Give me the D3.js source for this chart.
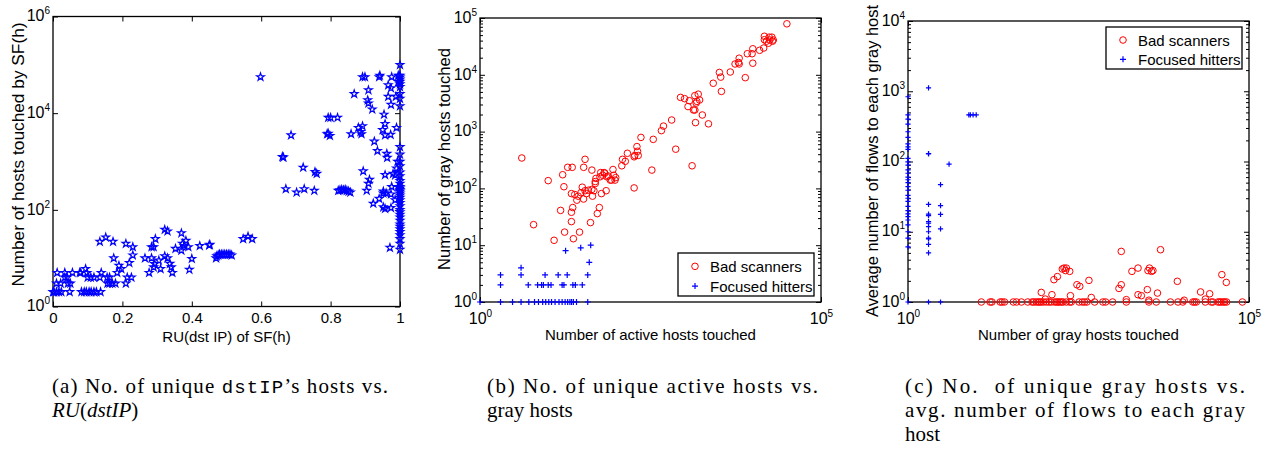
<!DOCTYPE html>
<html><head><meta charset="utf-8">
<script src="https://cdn.jsdelivr.net/npm/d3@7"></script>
<style>body{margin:0;background:#fff}</style>
</head><body><svg id="c" width="1271" height="452"></svg>
<script>
// ---------- DATA ----------
// Panel (a): [RU(dst IP), number of hosts]
const aPoints = [
 [0.0,2],[0.003,2],[0.01,2],[0.017,2],[0.024,2],[0.048,2],[0.082,2],[0.09,2],[0.096,2],[0.104,2],[0.11,2],[0.118,2],[0.125,2],[0.137,2],
 [0.01,3],[0.022,3],[0.043,3],[0.05,3],[0.157,3],[0.163,3],[0.171,3],[0.18,3],[0.21,3],
 [0.034,4],[0.041,4],[0.1,4],[0.109,4],[0.118,4],[0.135,4],[0.156,4],[0.163,4],[0.214,4],[0.226,4],
 [0.012,5],[0.034,5],[0.056,5],[0.077,5],[0.08,5],[0.098,5],[0.139,5],[0.185,5],[0.277,5],[0.344,5],
 [0.094,6],[0.197,6],
 [0.135,22],[0.152,27],[0.173,22],[0.175,10],[0.19,7],[0.21,20],[0.22,8],[0.23,17],[0.23,11.5],
 [0.265,10],[0.284,17],[0.29,17],[0.295,25],[0.29,6.5],[0.293,7.6],[0.31,6],[0.305,9],[0.284,10],
 [0.322,39],[0.33,36],[0.322,11],[0.33,10],[0.337,7.7],[0.341,6.5],[0.353,15.7],[0.37,33],[0.37,14.5],
 [0.378,18],[0.383,23],[0.373,20],[0.39,17],[0.393,5.8],[0.4,9.7],[0.423,18],[0.45,18.5],[0.452,19],
 [0.47,10],[0.472,11],[0.476,11.5],[0.48,12],[0.485,12],[0.49,12],[0.495,12],[0.5,12],[0.505,12],[0.51,12],[0.515,11.5],
 [0.548,25],[0.562,28],[0.574,25],
 [0.598,56000],
 [0.661,1250],[0.664,1220],[0.686,3500],[0.671,270],[0.702,230],[0.724,270],[0.721,750],[0.753,250],[0.755,610],[0.76,560],
 [0.793,8100],[0.8,8100],[0.82,8100],[0.793,3800],[0.798,3400],[0.79,3700],
 [0.822,250],[0.827,255],[0.832,260],[0.837,255],[0.842,260],[0.847,250],[0.852,240],[0.857,230],
 [0.859,3700],[0.868,25000],[0.88,5000],[0.886,4100],[0.892,5400],[0.889,3700],[0.892,56000],[0.899,56000],
 [0.907,18600],[0.909,30000],[0.909,16000],[0.92,12000],[0.894,630],[0.909,350],[0.912,420],[0.904,250],
 [0.923,135],[0.926,2600],[0.935,1660],[0.94,56000],[0.942,60000],[0.94,170],[0.952,220],[0.954,9400],
 [0.957,6000],[0.95,4500],[0.957,3500],[0.962,1450],[0.963,1200],[0.957,530],[0.952,240],[0.96,220],
 [0.952,114],[0.957,105],[0.966,38000],[0.966,22000],[0.974,33000],[0.974,15000],[0.973,3600],[0.976,56000],
 [0.98,560],[0.986,520],[0.976,300],[0.974,210],[0.974,110],[0.971,16.5],[0.988,22000],[0.99,5000],[0.99,720],
 [0.986,160],[0.995,60000],[0.995,45000],[0.993,1000],[0.995,300],
 [1,100000],[1,60000],[1,55000],[1,50000],[1,45000],[1,40000],[1,35000],[1,25000],[1,20000],[1,14000],
 [1,2000],[1,1400],[1,1000],[1,800],[1,600],[1,500],[1,400],[1,350],[1,300],[1,280],[1,260],[1,240],
 [1,220],[1,200],[1,180],[1,160],[1,140],[1,120],[1,100],[1,90],[1,80],[1,70],[1,60],[1,50],[1,45],
 [1,40],[1,35],[1,30],[1,25],[1,20],[1,15]
];
// Panel (b): [active hosts touched, gray hosts touched]
const bBadScanners = [
 [4.1,343],[6.1,23],[10,137],[12.2,12.2],[15.2,41],[16.3,174],[17,107],[17.4,17],[19.3,235],[22.5,235],
 [21.9,81],[22.9,46],[21.9,38],[21.9,26],[23.4,13],[24.5,78],[26.3,62],[27.5,73],[28.8,17],[30.2,84],
 [31.6,105],[33,65],[33.1,235],[34.7,325],[34.7,91],[36.3,81],[38.9,93],[41.7,25],[43.7,210],[43.7,96],
 [44.7,73],[46.8,91],[49,122],[50.1,150],[49,132],[52.5,36],[56.2,46],[58.9,190],[60.3,81],[57.5,160],
 [63.1,170],[66.1,190],[70.8,91],[67.6,185],[72.4,160],[75.9,165],[81.3,140],[85.1,140],[89.1,215],
 [91.2,170],[95.5,140],[97.7,155],[120,250],[123,325],[135,300],[145,415],[182,102],[182,360],[186,380],
 [200,545],[204,450],[209,380],[229,790],[331,210],[347,730],[457,1040],[490,1250],[646,1600],[741,490],
 [871,4000],[1000,3800],[1122,2760],[1175,3500],[1288,250],[1349,2400],[1413,2400],[1445,1440],[1413,4300],
 [1479,3180],[1514,3400],[1585,4560],[1660,3600],[1820,1960],[2239,1370],[2630,7100],[3236,11000],
 [3388,9100],[3467,5100],[4677,11200],[5495,15500],[6166,16500],[6310,19600],[6310,15500],[7762,8900],
 [8318,23500],[9772,23500],[10000,28700],[10000,16000],[12590,27000],[14450,29600],[14790,47700],
 [14790,41500],[15850,39000],[16980,36000],[17780,41000],[19050,46000],[19500,39000],[19950,41000],
 [17380,46000],[31620,79000]
];
const bFocusedHitters = [
 [1,1],[2,1],[3,1],[4,1],[5.2,1],[6.3,1],[7.2,1],[8.3,1],[9.2,1],[10.2,1],[11.2,1],[12.6,1],[14.4,1],
 [16,1],[17.7,1],[19.3,1],[20.8,1],[22,1],[23.4,1],[26,1],[38,1],
 [2,2],[5.1,2],[7,2],[8,2],[8.5,2],[10,2],[11,2],[16,2],[17,2],[23,2],[25,2],[31.6,2],
 [2,3],[4,3],[9,3],[14,3],[19,3],[38,3],[4,4],[40,5],[18,8],[30,9],[42,10]
];
// Panel (c): [gray hosts touched, avg flows per gray host]
const cBadScanners = [
 [11.9,1],[16,1],[17,1],[22.5,1],[24,1],[26,1],[35,1],[39,1],[46,1],[57,1],[66,1],[70,1],[76,1],[81,1],
 [85,1],[90,1],[97,1],[107,1],[117,1],[126,1],[141,1],[150,1],[158,1],[167,1],[178,1],[187,1],[210,1],
 [235,1],[248,1],[322,1],[360,1],[388,1],[420,1],[545,1],[720,1],[790,1],[1000,1],[1590,1],[3400,1],
 [4370,1],[7050,1],[9100,1],[10700,1],[15000,1],[15900,1],[16900,1],[22900,1],[28000,1],[29600,1],
 [35000,1],[37000,1],[39000,1],[42000,1],[44000,1],[47000,1],[80000,1],
 [90,1.37],[103,1.1],[129,1.27],[138,2.08],[155,2.3],[183,2.95],[194,3.04],[210,3.04],[204,2.8],
 [235,2.73],[241,1.23],[300,1.76],[330,1.67],[450,2.03],[487,1.16],[1240,1.56],[1340,1.76],[1340,5.25],
 [1590,1.08],[1920,2.73],[2360,1.27],[2360,3.04],[2640,1.23],[3230,1.5],[3300,2.8],[3470,3.04],
 [3720,2.73],[3900,2.8],[3400,1.06],[4550,1.34],[5050,5.55],[8900,1.97],[11200,1.06],[19500,1.39],
 [22900,1.1],[26500,1.31],[40000,2.45],[46500,1.9]
];
const cFocusedHitters = [
 [1,835],[1,460],[1,400],[1,340],[1,265],[1,220],[1,178],[1,162],[1,149],[1,111],[1,99],[1,89],[1,76],
 [1,68],[1,60],[1,55],[1,50],[1,44],[1,39],[1,33],[1,30],[1,27],[1,23],[1,20],[1,18],[1,16.4],[1,14.7],
 [1,12.5],[1,10],[1,8.1],[1,6.1],[1,1],
 [2,1120],[2,130],[2,128],[2,24.6],[2,17.8],[2,17],[2,14],[2,13.3],[2,11.8],[2,10],[2,8.1],[2,7.9],
 [2,6.6],[2,5],[2,1],
 [3,47],[3,23.5],[3,17.7],[3,11],[3,1],[4,92],[7.8,460],[8.2,460],[9,460],[10,460]
];
const aXTicks = [0, 0.2, 0.4, 0.6, 0.8, 1];
const aYTicks = [1, 1e2, 1e4, 1e6];
const bXTicks = [1, 1e5];
const bYTicks = [1, 1e1, 1e2, 1e3, 1e4, 1e5];
const cXTicks = [1, 1e5];
const cYTicks = [1, 1e1, 1e2, 1e3, 1e4];
const legendLabels = ["Bad scanners", "Focused hitters"];
const captions = {
  a: ["(a) No. of unique ", "dstIP", "\u2019s hosts vs."],
  b: ["(b) No. of unique active hosts vs.", "gray hosts"],
  c: ["(c) No.  of unique gray hosts vs.", "avg. number of flows to each gray", "host"]
};

// ---------- DRAW ----------
const SANS = "'Liberation Sans', Arial, Helvetica, sans-serif";
const SERIF = "'Liberation Serif', 'Times New Roman', serif";
const BLUE = "#0000ff", RED = "#ff0000";
const svg = d3.select("#c");
svg.append("rect").attr("width",1271).attr("height",452).attr("fill","#fff");

function minorVals(maxDec){ const v=[]; for(let d=0; d<maxDec; d++) for(let k=2;k<=9;k++) v.push(k*Math.pow(10,d)); return v; }

function supLabels(g){
  g.selectAll(".tick text").each(function(d){
    const t = d3.select(this); t.text(null);
    t.append("tspan").attr("font-size",16).text("10");
    t.append("tspan").attr("font-size",10).attr("dy",-7).text(Math.round(Math.log10(d)));
  });
}
function axisStyle(g){ g.select(".domain").remove(); g.selectAll(".tick line").attr("stroke","#000"); g.selectAll("text").attr("font-family",SANS).attr("fill","#000"); }

function panel(p){
  const g = svg.append("g");
  const [x0,x1] = p.x.range(), [y1,y0] = p.y.range();
  const bx = g.append("g").attr("transform",`translate(0,${y1})`)
    .call(d3.axisBottom(p.x).tickValues(p.xTicks).tickSize(-5).tickPadding(p.xPad).tickFormat(p.xFmt||(()=>"")));
  axisStyle(bx); bx.selectAll("text").attr("font-size",15);
  if (p.xSup) supLabels(bx);
  const tx = g.append("g").attr("transform",`translate(0,${y0})`)
    .call(d3.axisTop(p.x).tickValues(p.xTicks).tickSize(-5).tickFormat(""));
  axisStyle(tx);
  const ly = g.append("g").attr("transform",`translate(${x0},0)`)
    .call(d3.axisLeft(p.y).tickValues(p.yTicks).tickSize(-5).tickPadding(3));
  axisStyle(ly); supLabels(ly); ly.selectAll(".tick text").attr("dy","0.42em");
  const ry = g.append("g").attr("transform",`translate(${x1},0)`)
    .call(d3.axisRight(p.y).tickValues(p.yTicks).tickSize(-5).tickFormat(""));
  axisStyle(ry);
  if (p.yMinor){
    [[d3.axisLeft,x0],[d3.axisRight,x1]].forEach(([ax,xx])=>{
      const m = g.append("g").attr("transform",`translate(${xx},0)`)
        .call(ax(p.y).tickValues(p.yMinor).tickSize(-3).tickFormat(""));
      axisStyle(m);
    });
  }
  g.append("rect").attr("x",x0).attr("y",y0).attr("width",x1-x0).attr("height",y1-y0)
    .attr("fill","none").attr("stroke","#000").attr("stroke-width",1.3);
  g.append("text").attr("x",(x0+x1)/2).attr("y",p.xTitleY).attr("text-anchor","middle")
    .attr("font-family",SANS).attr("font-size",15).text(p.xTitle);
  g.append("text").attr("transform",`translate(${p.yTitleX},${p.yTitleC}) rotate(-90)`)
    .attr("text-anchor","middle").attr("font-family",SANS).attr("font-size",16.5)
    .attr("textLength",p.yTitleLen).attr("lengthAdjust","spacingAndGlyphs").text(p.yTitle);
  return g;
}

const plus = s => `M${-s},0H${s}M0,${-s}V${s}`;

// Panel A
const xA = d3.scaleLinear([0,1],[53,400]);
const yA = d3.scaleLog([1,1e6],[306.5,16.5]);
const gA = panel({x:xA,y:yA,xTicks:aXTicks,yTicks:aYTicks,xPad:6,xFmt:d=>d3.format("")(d),
  xTitle:"RU(dst IP) of SF(h)",xTitleY:341.5,yTitle:"Number of hosts touched by SF(h)",yTitleX:23.5,yTitleC:154.5,yTitleLen:264});
gA.append("g").selectAll("path").data(aPoints).join("path")
  .attr("d",d3.symbol(d3.symbolStar,18)())
  .attr("transform",d=>`translate(${xA(d[0])},${yA(d[1])})`)
  .attr("fill","none").attr("stroke",BLUE).attr("stroke-width",1.2);

// Panel B
const xB = d3.scaleLog([1,1e5],[480,821]);
const yB = d3.scaleLog([1,1e5],[302,18]);
const gB = panel({x:xB,y:yB,xTicks:bXTicks,yTicks:bYTicks,yMinor:minorVals(5),xPad:11.5,xSup:true,xFmt:d=>String(d),
  xTitle:"Number of active hosts touched",xTitleY:340,yTitle:"Number of gray hosts touched",yTitleX:450,yTitleC:159,yTitleLen:222});
gB.append("g").selectAll("circle").data(bBadScanners).join("circle")
  .attr("cx",d=>xB(d[0])).attr("cy",d=>yB(d[1])).attr("r",3.3)
  .attr("fill","none").attr("stroke",RED).attr("stroke-width",1);
gB.append("g").selectAll("path").data(bFocusedHitters).join("path")
  .attr("d",plus(3)).attr("transform",d=>`translate(${xB(d[0])},${yB(d[1])})`)
  .attr("stroke",BLUE).attr("stroke-width",1.2);

// Panel C
const xC = d3.scaleLog([1,1e5],[908,1249]);
const yC = d3.scaleLog([1,1e4],[302,21]);
const gC = panel({x:xC,y:yC,xTicks:cXTicks,yTicks:cYTicks,yMinor:minorVals(4),xPad:11.5,xSup:true,xFmt:d=>String(d),
  xTitle:"Number of gray hosts touched",xTitleY:340,yTitle:"Average number of flows to each gray host",yTitleX:878,yTitleC:161,yTitleLen:312});
gC.append("g").selectAll("circle").data(cBadScanners).join("circle")
  .attr("cx",d=>xC(d[0])).attr("cy",d=>yC(d[1])).attr("r",3.3)
  .attr("fill","none").attr("stroke",RED).attr("stroke-width",1);
gC.append("g").selectAll("path").data(cFocusedHitters).join("path")
  .attr("d",plus(2.6)).attr("transform",d=>`translate(${xC(d[0])},${yC(d[1])})`)
  .attr("stroke",BLUE).attr("stroke-width",1.2);

// Legends
function legend(x,y,w,h){
  const g = svg.append("g");
  g.append("rect").attr("x",x).attr("y",y).attr("width",w).attr("height",h)
    .attr("fill","#fff").attr("stroke","#000").attr("stroke-width",1.3);
  const r1 = y + h*0.31, r2 = y + h*0.77;
  g.append("circle").attr("cx",x+17).attr("cy",r1).attr("r",3.3).attr("fill","none").attr("stroke",RED);
  g.append("path").attr("d",plus(3)).attr("transform",`translate(${x+17},${r2})`).attr("stroke",BLUE).attr("stroke-width",1.2);
  [r1,r2].forEach((ry,i)=>g.append("text").attr("x",x+32).attr("y",ry+5.5)
    .attr("font-family",SANS).attr("font-size",15).text(legendLabels[i]));
}
legend(678,253,136,43);
legend(1106,27,136,42);

// Captions
function capLine(x,y,len){
  const t = svg.append("text").attr("x",x).attr("y",y).attr("font-family",SERIF).attr("font-size",21).attr("fill","#000");
  if (len) t.attr("textLength",len).attr("lengthAdjust","spacing");
  return t;
}
let t = capLine(52,393,336);
t.append("tspan").text(captions.a[0]);
t.append("tspan").attr("font-family","'Liberation Mono', monospace").attr("font-size",19).text(captions.a[1]);
t.append("tspan").text(captions.a[2]);
t = capLine(52,417);
t.append("tspan").attr("font-style","italic").text("RU");
t.append("tspan").text("(");
t.append("tspan").attr("font-style","italic").text("dstIP");
t.append("tspan").text(")");
capLine(487,393,331).text(captions.b[0]);
capLine(487,417).text(captions.b[1]);
capLine(905,393,340).attr("xml:space","preserve").style("white-space","pre").text(captions.c[0]);
capLine(905,417,340).text(captions.c[1]);
capLine(905,441).text(captions.c[2]);
</script></body></html>
